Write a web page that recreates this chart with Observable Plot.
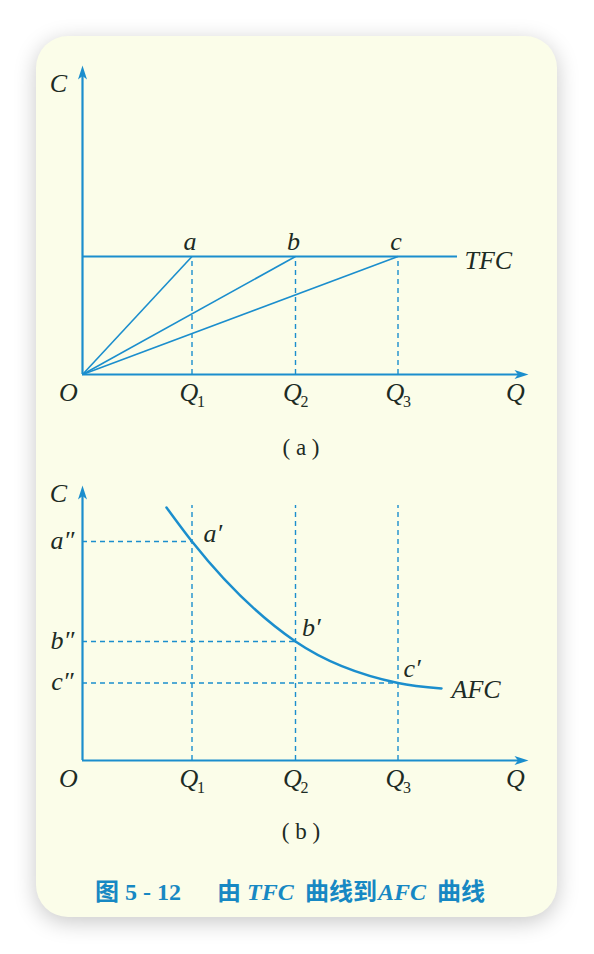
<!DOCTYPE html>
<html><head><meta charset="utf-8">
<script src="https://cdn.jsdelivr.net/npm/d3@7"></script>
<script src="https://cdn.jsdelivr.net/npm/@observablehq/plot@0.6"></script>
<style>
html,body{margin:0;padding:0;background:#fff;width:594px;height:954px;overflow:hidden;}
#card{position:absolute;left:36px;top:36px;width:521px;height:881px;border-radius:32px;background:#fbfde9;box-shadow:0 5px 22px rgba(0,0,0,0.22);}
.plot{position:absolute;left:0;}
.sub{position:absolute;left:251px;width:100px;text-align:center;font-family:"Liberation Serif",serif;font-size:23px;line-height:23px;color:#1d2b24;white-space:pre;}
#caption{position:absolute;left:95px;top:878px;display:flex;align-items:baseline;color:#1788c3;font-weight:bold;font-size:24px;line-height:24px;white-space:pre;}
#caption span{display:inline-block;}
.cjk{font-family:"Noto Sans CJK SC",sans-serif;}
.lat{font-family:"Liberation Serif",serif;}
.it{font-style:italic;}
</style></head>
<body>
<div id="card"></div>
<div id="pa" class="plot" style="top:40px"></div>
<div class="sub" style="top:436px">( a )</div>
<div id="pb" class="plot" style="top:455px"></div>
<div class="sub" style="top:820px">( b )</div>
<div id="caption"><span class="cjk" style="width:30px">图</span><span class="lat" style="width:92px">5 - 12</span><span class="cjk" style="width:30px">由</span><span class="lat it" style="width:58px">TFC</span><span class="cjk" style="width:73px">曲线到</span><span class="lat it" style="width:59px">AFC</span><span class="cjk">曲线</span></div>
<script>
// ---- data (chart units) ----
const Q = [10.95, 21.3, 31.55];
const qSubs = ["1", "2", "3"];
const tfc = 11.8;
const tfcEnd = 37.5;
const tfcPoints = ["a", "b", "c"];
const afc = [21.9, 11.9, 7.75];
const afcPoints = ["a′", "b′", "c′"];
const afcTicks = ["a″", "b″", "c″"];
const afcCurveQ = [8.4, 10.95, 21.3, 31.55, 35.9];
const afcCurveC = [25.3, 21.9, 11.9, 7.75, 7.2];
const xMax = 44.6, yMaxA = 30.9, yMaxB = 27.5, dashTopB = 25.5;

// ---- style ----
const blue = "#1b8ecd", ink = "#1d2b24";
const font = "Liberation Serif";
const arrowUp = {draw(c){c.moveTo(0,0);c.lineTo(-4.5,14);c.lineTo(0,10.5);c.lineTo(4.5,14);c.closePath();}};
const arrowRight = {draw(c){c.moveTo(0,0);c.lineTo(-14,-4.5);c.lineTo(-10.5,0);c.lineTo(-14,4.5);c.closePath();}};
const lab = {fontFamily: font, fontSize: 26, fontStyle: "italic", fill: ink, lineAnchor: "bottom"};

function axes(yMax, cDy) {
  return [
    Plot.ruleY([0], {x1: 0, x2: xMax - 1, stroke: blue, strokeWidth: 2.2}),
    Plot.ruleX([0], {y1: 0, y2: yMax - 1, stroke: blue, strokeWidth: 2.2}),
    Plot.dot([{x: xMax, y: 0}], {x: "x", y: "y", symbol: arrowRight, fill: blue, stroke: "none"}),
    Plot.dot([{x: 0, y: yMax}], {x: "x", y: "y", symbol: arrowUp, fill: blue, stroke: "none"}),
    Plot.text([{x: 0, y: yMax}], {x: "x", y: "y", text: () => "C", dx: -24, dy: cDy, ...lab}),
    Plot.text([{x: 0, y: 0}], {x: "x", y: "y", text: () => "O", dx: -14, dy: 26, ...lab}),
    Plot.text([{x: xMax, y: 0}], {x: "x", y: "y", text: () => "Q", dx: -13, dy: 26, ...lab}),
    Plot.text(Q, {x: d => d, y: () => 0, text: () => "Q", dx: -3, dy: 26, ...lab}),
    Plot.text(Q, {x: d => d, y: () => 0, text: (d, i) => qSubs[i], dx: 5, dy: 32, ...lab, fontStyle: "normal", fontSize: 16, textAnchor: "start"})
  ];
}

const common = {width: 594, marginLeft: 82, marginRight: 66, style: {background: "transparent", overflow: "visible"}};

const pa = Plot.plot({
  ...common, height: 390, marginTop: 25, marginBottom: 56,
  x: {domain: [0, xMax], axis: null},
  y: {domain: [0, yMaxA], axis: null},
  marks: [
    Plot.ruleX(Q, {y1: 0, y2: tfc, stroke: blue, strokeWidth: 1.4, strokeDasharray: "5,4"}),
    Plot.link(Q, {x1: () => 0, y1: () => 0, x2: d => d, y2: () => tfc, stroke: blue, strokeWidth: 1.6}),
    Plot.ruleY([tfc], {x1: 0, x2: tfcEnd, stroke: blue, strokeWidth: 2.2}),
    ...axes(yMaxA, 26),
    Plot.text(Q, {x: d => d, y: () => tfc, text: (d, i) => tfcPoints[i], dx: -2, dy: -7, ...lab}),
    Plot.text([{x: tfcEnd, y: tfc}], {x: "x", y: "y", text: () => "TFC", dx: 7, dy: 12, ...lab, textAnchor: "start"})
  ]
});
document.getElementById("pa").appendChild(pa);

const ptOff = [[11.5, 0], [6.5, -6], [5.5, -6]];
const pb = Plot.plot({
  ...common, height: 360, marginTop: 30, marginBottom: 55,
  x: {domain: [0, xMax], axis: null},
  y: {domain: [0, yMaxB], axis: null},
  marks: [
    Plot.ruleX(Q, {y1: 0, y2: dashTopB, stroke: blue, strokeWidth: 1.4, strokeDasharray: "5,4"}),
    Plot.ruleY(afc, {y: d => d, x1: 0, x2: (d, i) => Q[i], stroke: blue, strokeWidth: 1.4, strokeDasharray: "5,4"}),
    Plot.line(afcCurveQ, {x: d => d, y: (d, i) => afcCurveC[i], curve: "monotone-x", stroke: blue, strokeWidth: 2.5}),
    ...axes(yMaxB, 16),
    Plot.text(afc, {x: () => 0, y: d => d, text: (d, i) => afcTicks[i], dx: -20, dy: 7, ...lab}),
    ...afcPoints.map((t, i) => Plot.text([i], {x: j => Q[j], y: j => afc[j], text: () => t, dx: ptOff[i][0], dy: ptOff[i][1], ...lab, textAnchor: "start"})),
    Plot.text([{x: afcCurveQ[afcCurveQ.length - 1], y: afcCurveC[afcCurveC.length - 1]}], {x: "x", y: "y", text: () => "AFC", dx: 10, dy: 9, ...lab, textAnchor: "start"})
  ]
});
document.getElementById("pb").appendChild(pb);
</script>
</body></html>
